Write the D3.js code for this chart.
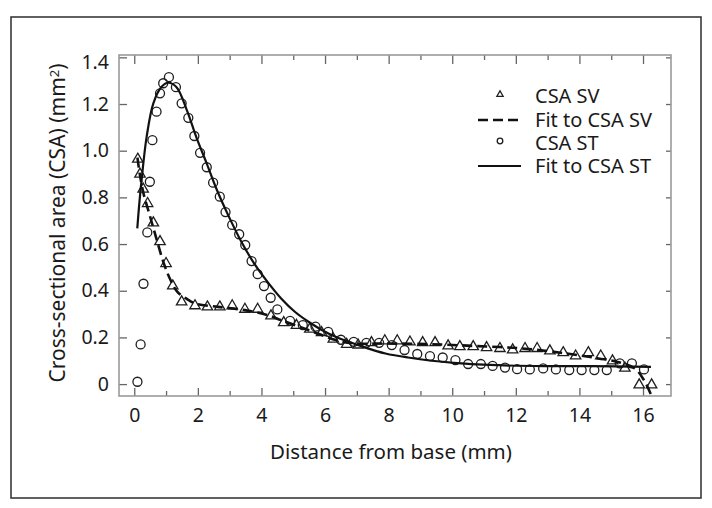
<!DOCTYPE html>
<html>
<head>
<meta charset="utf-8">
<script src="https://cdn.jsdelivr.net/npm/d3@7"></script>
<style>
  html, body { margin: 0; padding: 0; background: #fff; }
  text { font-family: "Noto Sans", "Open Sans", sans-serif; fill: #1a1a1a; }
</style>
</head>
<body>
<script>
// ---- Data ----
const stX = [0.10,0.20,0.29,0.41,0.49,0.57,0.70,0.81,0.91,1.09,1.31,1.49,1.70,1.89,2.07,2.28,2.48,2.69,2.87,3.08,3.30,3.49,3.69,3.88,4.08,4.29,4.50,4.90,5.30,5.70,6.10,6.50,6.90,7.30,7.70,8.10,8.50,8.90,9.30,9.70,10.10,10.50,10.90,11.27,11.66,12.04,12.44,12.86,13.26,13.68,14.07,14.47,14.86,15.27,15.65,16.03];
const stY = [0.01,0.17,0.43,0.65,0.867,1.045,1.167,1.246,1.289,1.315,1.272,1.203,1.141,1.063,0.991,0.929,0.863,0.803,0.737,0.682,0.642,0.596,0.527,0.471,0.42,0.37,0.32,0.271,0.253,0.246,0.224,0.19,0.181,0.177,0.177,0.167,0.146,0.129,0.12,0.114,0.103,0.086,0.086,0.078,0.071,0.064,0.063,0.067,0.063,0.06,0.06,0.06,0.06,0.089,0.089,0.063];

const svX = [0.11,0.18,0.28,0.42,0.60,0.81,1.00,1.21,1.49,1.91,2.30,2.69,3.08,3.48,3.88,4.30,4.70,5.10,5.52,5.89,6.26,6.68,7.04,7.46,7.88,8.27,8.67,9.07,9.46,9.87,10.24,10.66,11.08,11.50,11.90,12.29,12.67,13.07,13.49,13.88,14.28,14.67,15.04,15.43,15.88,16.27];
const svY = [0.967,0.903,0.839,0.777,0.694,0.614,0.52,0.424,0.356,0.339,0.334,0.334,0.339,0.324,0.324,0.296,0.267,0.255,0.239,0.224,0.196,0.174,0.171,0.181,0.189,0.189,0.184,0.181,0.181,0.167,0.164,0.164,0.16,0.156,0.15,0.156,0.156,0.146,0.138,0.124,0.138,0.124,0.103,0.072,0.0,0.0];

const fitSvX = [0.10,0.17,0.29,0.50,0.71,0.93,1.14,1.35,1.63,1.91,2.63,3.48,4.19,4.62,5.19,5.76,6.33,6.90,7.90,9.33,10.75,12.18,13.60,14.60,15.17,15.74,16.03,16.28];
const fitSvY = [0.97,0.903,0.817,0.717,0.617,0.517,0.446,0.396,0.367,0.346,0.331,0.317,0.296,0.274,0.246,0.217,0.189,0.174,0.174,0.171,0.163,0.153,0.131,0.11,0.096,0.067,0.017,-0.054];

const fitStX = [0.095,0.15,0.23,0.39,0.60,0.86,1.07,1.33,1.65,1.96,2.28,2.59,2.95,3.36,3.77,4.19,4.62,5.05,5.48,5.91,6.33,6.76,7.19,7.90,8.61,10.04,11.46,12.89,14.32,16.25];
const fitStY = [0.667,0.76,0.874,1.06,1.203,1.274,1.291,1.272,1.175,1.055,0.945,0.835,0.725,0.612,0.517,0.438,0.367,0.31,0.267,0.231,0.203,0.181,0.16,0.131,0.114,0.091,0.081,0.077,0.077,0.074];

const xMajorTicks = [0,2,4,6,8,10,12,14,16];
const xMinorTicks = [1,3,5,7,9,11,13,15];
const yTicks = [0,0.2,0.4,0.6,0.8,1.0,1.2,1.4];
const yTickLabels = ["0","0.2","0.4","0.6","0.8","1.0","1.2","1.4"];

const legendLabels = ["CSA SV","Fit to CSA SV","CSA ST","Fit to CSA ST"];
const xTitle = "Distance from base (mm)";
const yTitle = "Cross-sectional area (CSA) (mm";

// ---- Layout ----
const W = 712, H = 508;
const L = 119, R = 671, T = 55, B = 396;

const x = d3.scaleLinear().domain([-0.48, 16.88]).range([L, R]);
const y = d3.scaleLinear().domain([-0.051, 1.41]).range([B, T]);

const svg = d3.select("body").append("svg").attr("width", W).attr("height", H);

// outer frame
svg.append("rect").attr("x", 11).attr("y", 17).attr("width", 690).attr("height", 481)
  .attr("fill", "none").attr("stroke", "#3a3a3a").attr("stroke-width", 1.6);

// clip
svg.append("clipPath").attr("id", "plotclip").append("rect")
  .attr("x", L).attr("y", T).attr("width", R - L).attr("height", B - T);

const tickColor = "#666";
function styleAxis(g) {
  g.select(".domain").remove();
  g.selectAll(".tick line").attr("stroke", tickColor).attr("stroke-width", 1.3);
  g.selectAll(".tick text").style("font-size", "19.5px").attr("fill", "#1a1a1a");
}

// bottom axis major
svg.append("g").attr("transform", `translate(0,${B})`)
  .call(d3.axisBottom(x).tickValues(xMajorTicks).tickSizeInner(-8).tickSizeOuter(0).tickPadding(12).tickFormat(d3.format("d")))
  .call(styleAxis);
// bottom minor
svg.append("g").attr("transform", `translate(0,${B})`)
  .call(d3.axisBottom(x).tickValues(xMinorTicks).tickSizeInner(-5).tickSizeOuter(0).tickFormat(""))
  .call(styleAxis);
// top axis
svg.append("g").attr("transform", `translate(0,${T})`)
  .call(d3.axisTop(x).tickValues(xMajorTicks).tickSizeInner(-9).tickSizeOuter(0).tickFormat(""))
  .call(styleAxis);
svg.append("g").attr("transform", `translate(0,${T})`)
  .call(d3.axisTop(x).tickValues(xMinorTicks).tickSizeInner(-5).tickSizeOuter(0).tickFormat(""))
  .call(styleAxis);
// left axis
const leftAxis = svg.append("g").attr("transform", `translate(${L},0)`)
  .call(d3.axisLeft(y).tickValues(yTicks).tickSizeInner(-8).tickSizeOuter(0).tickPadding(10)
    .tickFormat((d, i) => yTickLabels[i]))
  .call(styleAxis);
leftAxis.selectAll(".tick text").filter(d => d === 1.4).attr("dy", "0.55em");
// right axis
svg.append("g").attr("transform", `translate(${R},0)`)
  .call(d3.axisRight(y).tickValues(yTicks).tickSizeInner(-5).tickSizeOuter(0).tickFormat(""))
  .call(styleAxis);

// plot box
svg.append("rect").attr("x", L).attr("y", T).attr("width", R - L).attr("height", B - T)
  .attr("fill", "none").attr("stroke", "#9a9a9a").attr("stroke-width", 1.6);

// ---- Data layers ----
const plot = svg.append("g").attr("clip-path", "url(#plotclip)");

const line = d3.line().x(d => x(d[0])).y(d => y(d[1])).curve(d3.curveCatmullRom.alpha(0.5));

const fitSv = fitSvX.map((v, i) => [v, fitSvY[i]]);
const fitSt = fitStX.map((v, i) => [v, fitStY[i]]);

const triPath = s => `M0,${-5.2*s}L${5.2*s},${3.8*s}L${-5.2*s},${3.8*s}Z`;

// triangles (SV)
plot.append("g").selectAll("path").data(svX.map((v, i) => [v, svY[i]])).join("path")
  .attr("d", triPath(1))
  .attr("transform", d => `translate(${x(d[0])},${y(d[1])})`)
  .attr("fill", "none").attr("stroke", "#1e1e1e").attr("stroke-width", 1.3);

// circles (ST)
plot.append("g").selectAll("circle").data(stX.map((v, i) => [v, stY[i]])).join("circle")
  .attr("cx", d => x(d[0])).attr("cy", d => y(d[1])).attr("r", 4.5)
  .attr("fill", "none").attr("stroke", "#1e1e1e").attr("stroke-width", 1.3);

// fit lines
plot.append("path").datum(fitSv).attr("d", line)
  .attr("fill", "none").attr("stroke", "#111").attr("stroke-width", 2.6).attr("stroke-dasharray", "10,5");
plot.append("path").datum(fitSt).attr("d", line)
  .attr("fill", "none").attr("stroke", "#111").attr("stroke-width", 2.2);

// ---- Legend ----
const lg = svg.append("g");
const rowsY = [96, 120, 143, 166];
const lx0 = 478, lx1 = 521, lmx = 500, ltx = 535;
lg.append("path").attr("d", triPath(0.6)).attr("transform", `translate(${lmx},${rowsY[0]-2})`)
  .attr("fill", "none").attr("stroke", "#1e1e1e").attr("stroke-width", 1.3);
lg.append("line").attr("x1", lx0).attr("x2", lx1).attr("y1", rowsY[1]).attr("y2", rowsY[1])
  .attr("stroke", "#111").attr("stroke-width", 2.6).attr("stroke-dasharray", "10,5");
lg.append("circle").attr("cx", lmx).attr("cy", rowsY[2] - 2).attr("r", 2.8)
  .attr("fill", "none").attr("stroke", "#1e1e1e").attr("stroke-width", 1.3);
lg.append("line").attr("x1", lx0).attr("x2", lx1).attr("y1", rowsY[3]).attr("y2", rowsY[3])
  .attr("stroke", "#111").attr("stroke-width", 2.2);
legendLabels.forEach((t, i) => {
  lg.append("text").attr("x", ltx).attr("y", rowsY[i]).attr("dy", "0.36em")
    .style("font-size", "20px").text(t);
});

// ---- Axis titles ----
svg.append("text").attr("x", 391).attr("y", 459).attr("text-anchor", "middle")
  .style("font-size", "20.5px").text(xTitle);

const yt = svg.append("text").attr("transform", "translate(65,223) rotate(-90)")
  .attr("text-anchor", "middle").style("font-size", "21px");
yt.append("tspan").text(yTitle);
yt.append("tspan").attr("dy", "-0.45em").style("font-size", "13px").text("2");
yt.append("tspan").attr("dy", "0.29em").text(")");
</script>
</body>
</html>
